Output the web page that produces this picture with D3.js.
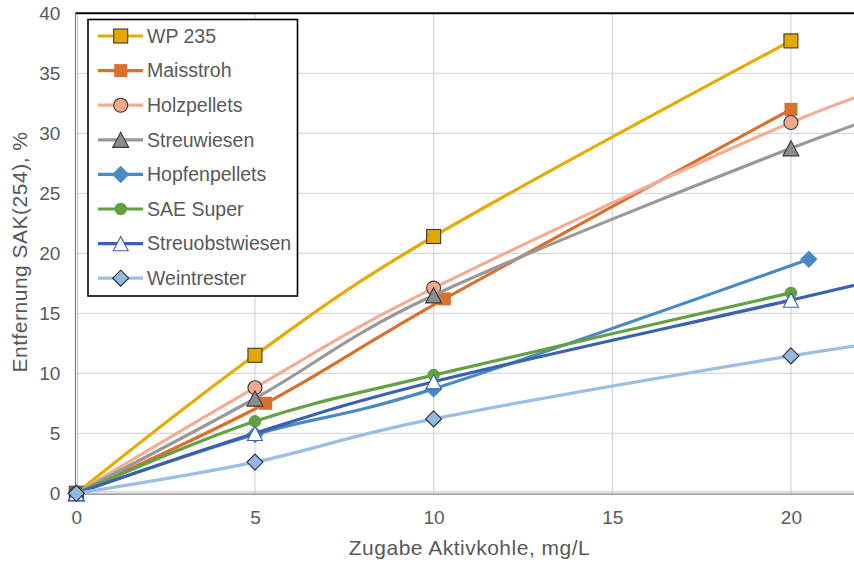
<!DOCTYPE html>
<html>
<head>
<meta charset="utf-8">
<script src="https://cdn.jsdelivr.net/npm/d3@7"></script>
<style>
  body { margin: 0; background: #fff; }
  svg { display: block; font-family: "Liberation Sans", Arial, sans-serif; }
</style>
</head>
<body>
<svg id="chart" width="854" height="562"></svg>
<script>
// series names, colours and values
const seriesNames = ["WP 235", "Maisstroh", "Holzpellets", "Streuwiesen", "Hopfenpellets", "SAE Super", "Streuobstwiesen", "Weintrester"];
const lineColors = ["#e5ab00", "#d8702e", "#f3ad94", "#999999", "#4a8ac2", "#66a044", "#3a62b0", "#9cbee4"];

const xWP = [0, 5, 10, 20];
const yWP = [0, 11.5, 21.4, 37.7];
const xMais = [0, 5.3, 10.3, 20];
const yMais = [0, 7.5, 16.2, 32.0];
const xHolz = [0, 5, 10, 20, 25];
const yHolz = [0, 8.8, 17.1, 30.9, 36.0];
const xStreu = [0, 5, 10, 20, 25];
const yStreu = [0, 7.9, 16.5, 28.75, 33.8];
const xHopfen = [0, 5, 10, 20.5];
const yHopfen = [0, 4.9, 8.7, 19.5];
const xSAE = [0, 5, 10, 20];
const ySAE = [0, 6.0, 9.85, 16.7];
const xObst = [0, 5, 10, 20, 25];
const yObst = [0, 5.0, 9.3, 16.1, 19.6];
const xWein = [0, 5, 10, 20, 25];
const yWein = [0, 2.6, 6.2, 11.45, 13.55];

const xTicks = [0, 5, 10, 15, 20];
const yTicks = [0, 5, 10, 15, 20, 25, 30, 35, 40];

const xTitle = "Zugabe Aktivkohle, mg/L";
const yTitle = "Entfernung SAK(254), %";

// marker styles per series
const markers = [
  { shape: "square", size: 14, fill: "#e3a800", stroke: "#3a3a3a" },
  { shape: "square", size: 13, fill: "#d8702e", stroke: "none" },
  { shape: "circle", size: 14, fill: "#f2a98a", stroke: "#3a3a3a" },
  { shape: "triangle", size: 16, fill: "#8c8c8c", stroke: "#3a3a3a" },
  { shape: "diamond", size: 17.5, fill: "#4a8ac2", stroke: "none" },
  { shape: "circle", size: 12.5, fill: "#62a043", stroke: "none" },
  { shape: "triangle", size: 15, fill: "#ffffff", stroke: "#3a62b0" },
  { shape: "diamond", size: 16, fill: "#93b8e3", stroke: "#2a2a2a" }
];

const xs = [xWP, xMais, xHolz, xStreu, xHopfen, xSAE, xObst, xWein];
const ys = [yWP, yMais, yHolz, yStreu, yHopfen, ySAE, yObst, yWein];
const series = seriesNames.map((name, i) => ({
  name: name,
  color: lineColors[i],
  marker: markers[i],
  points: xs[i].map((x, j) => ({ x: x, y: ys[i][j] }))
}));

const svg = d3.select("#chart");
const plotLeft = 76.3, plotTop = 13.3, plotRight = 862.4, plotBottom = 493.3;

const x = d3.scaleLinear().domain([0, 22]).range([plotLeft, plotRight]);
const y = d3.scaleLinear().domain([0, 40]).range([plotBottom, plotTop]);

const textColor = "#595959";

// gridlines
svg.append("g")
  .selectAll("line")
  .data(yTicks.slice(1))
  .join("line")
  .attr("x1", plotLeft).attr("x2", 854)
  .attr("y1", (d) => y(d)).attr("y2", (d) => y(d))
  .attr("stroke", "#d9d9d9").attr("stroke-width", 1.3);
svg.append("g")
  .selectAll("line")
  .data(xTicks.slice(1))
  .join("line")
  .attr("x1", (d) => x(d)).attr("x2", (d) => x(d))
  .attr("y1", plotTop).attr("y2", plotBottom)
  .attr("stroke", "#d9d9d9").attr("stroke-width", 1.3);

// axes via d3, lines restyled
const xAxis = svg.append("g")
  .attr("transform", `translate(0,${plotBottom})`)
  .call(d3.axisBottom(x).tickValues(xTicks).tickSize(0).tickPadding(17));
xAxis.select(".domain").remove();
xAxis.selectAll("text").attr("fill", textColor).attr("font-size", "19px").attr("font-family", "Liberation Sans, Arial, sans-serif");

const yAxis = svg.append("g")
  .attr("transform", `translate(${plotLeft},0)`)
  .call(d3.axisLeft(y).tickValues(yTicks).tickSize(0).tickPadding(16));
yAxis.select(".domain").remove();
yAxis.selectAll("text").attr("fill", textColor).attr("font-size", "19px").attr("font-family", "Liberation Sans, Arial, sans-serif");

// plot border: black top, doubled grey left/bottom
svg.append("line")
  .attr("x1", plotLeft - 1).attr("x2", 854).attr("y1", plotTop).attr("y2", plotTop)
  .attr("stroke", "#000").attr("stroke-width", 2);
svg.append("line")
  .attr("x1", plotLeft - 0.8).attr("x2", plotLeft - 0.8).attr("y1", plotTop).attr("y2", plotBottom + 1.5)
  .attr("stroke", "#7f7f7f").attr("stroke-width", 1.2);
svg.append("line")
  .attr("x1", plotLeft + 1.4).attr("x2", plotLeft + 1.4).attr("y1", plotTop + 1).attr("y2", plotBottom)
  .attr("stroke", "#bfbfbf").attr("stroke-width", 1);
svg.append("line")
  .attr("x1", plotLeft - 1).attr("x2", 854).attr("y1", plotBottom + 0.8).attr("y2", plotBottom + 0.8)
  .attr("stroke", "#7f7f7f").attr("stroke-width", 1.2);
svg.append("line")
  .attr("x1", plotLeft).attr("x2", 854).attr("y1", plotBottom - 1.4).attr("y2", plotBottom - 1.4)
  .attr("stroke", "#bfbfbf").attr("stroke-width", 1);

// axis titles
svg.append("text")
  .attr("x", 469.5).attr("y", 555)
  .attr("text-anchor", "middle")
  .attr("font-size", "21px").attr("letter-spacing", "0.5px").attr("fill", textColor)
  .text(xTitle);
svg.append("text")
  .attr("transform", `translate(27,252) rotate(-90)`)
  .attr("text-anchor", "middle")
  .attr("font-size", "21px").attr("letter-spacing", "0.5px").attr("fill", textColor)
  .text(yTitle);

// clip for lines
svg.append("clipPath").attr("id", "plotClip")
  .append("rect")
  .attr("x", plotLeft).attr("y", plotTop)
  .attr("width", plotRight - plotLeft).attr("height", plotBottom - plotTop);

const line = d3.line()
  .x((d) => x(d.x))
  .y((d) => y(d.y))
  .curve(d3.curveCatmullRom.alpha(0));

function drawMarker(g, m, cx, cy) {
  const s = m.size;
  let el;
  if (m.shape === "square") {
    el = g.append("rect").attr("x", cx - s / 2).attr("y", cy - s / 2).attr("width", s).attr("height", s);
  } else if (m.shape === "circle") {
    el = g.append("circle").attr("cx", cx).attr("cy", cy).attr("r", s / 2);
  } else if (m.shape === "triangle") {
    const h = s * 0.95;
    el = g.append("path").attr("d", `M${cx},${cy - h / 2} L${cx + s / 2},${cy + h / 2} L${cx - s / 2},${cy + h / 2} Z`);
  } else {
    el = g.append("path").attr("d", `M${cx},${cy - s / 2} L${cx + s / 2},${cy} L${cx},${cy + s / 2} L${cx - s / 2},${cy} Z`);
  }
  el.attr("fill", m.fill)
    .attr("stroke", m.stroke)
    .attr("stroke-width", m.stroke === "none" ? 0 : 1.1);
}

series.forEach((s) => {
  const g = svg.append("g");
  g.append("path")
    .datum(s.points)
    .attr("clip-path", "url(#plotClip)")
    .attr("fill", "none")
    .attr("stroke", s.color)
    .attr("stroke-width", 3.2)
    .attr("stroke-linejoin", "round")
    .attr("d", line);
  s.points
    .filter((p) => p.x <= x.domain()[1] && x(p.x) < 854)
    .forEach((p) => drawMarker(g, s.marker, x(p.x), y(p.y)));
});

// legend
const lg = svg.append("g");
lg.append("rect")
  .attr("x", 88).attr("y", 19.5)
  .attr("width", 209.5).attr("height", 276.5)
  .attr("fill", "#fff").attr("stroke", "#000").attr("stroke-width", 1.6);
series.forEach((s, i) => {
  const cy = 36 + i * 34.6;
  lg.append("line")
    .attr("x1", 98).attr("x2", 143).attr("y1", cy).attr("y2", cy)
    .attr("stroke", s.color).attr("stroke-width", 3.2);
  drawMarker(lg, s.marker, 120.7, cy);
  lg.append("text")
    .attr("x", 147).attr("y", cy)
    .attr("dy", "0.35em")
    .attr("font-size", "19.5px").attr("fill", textColor)
    .text(s.name);
});
</script>
</body>
</html>
